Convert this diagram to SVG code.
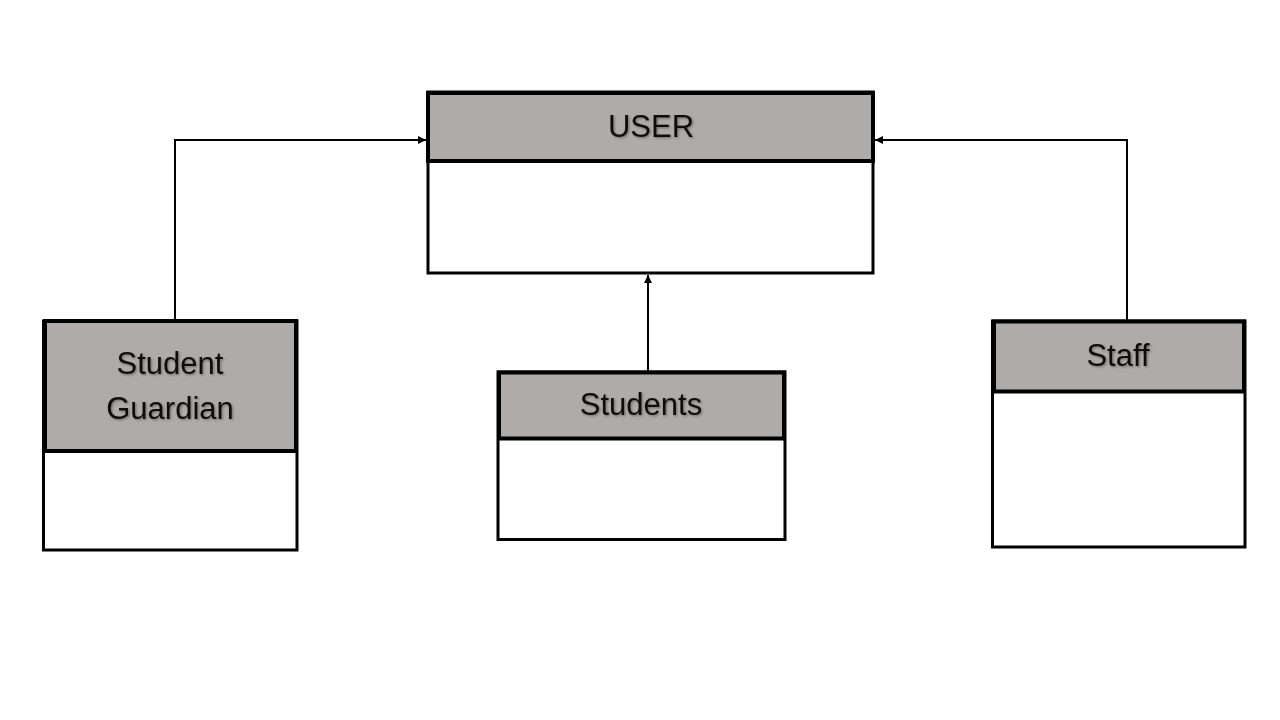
<svg xmlns="http://www.w3.org/2000/svg" width="1280" height="720" viewBox="0 0 1280 720">
  <defs>
    <marker id="arrow" viewBox="0 0 10 10" refX="10" refY="5" markerWidth="4" markerHeight="4" orient="auto" markerUnits="strokeWidth">
      <path d="M0,0 L10,5 L0,10 z" fill="#000"/>
    </marker>
    <filter id="shadow" x="-10%" y="-20%" width="130%" height="150%">
      <feDropShadow dx="1.2" dy="1.2" stdDeviation="0.8" flood-color="#000" flood-opacity="0.35"/>
    </filter>
  </defs>
  <style>
    .body { fill: #ffffff; stroke: #000; stroke-width: 3; }
    .head { fill: #AEABAA; stroke: #000; stroke-width: 4; }
    .label { font-family: "Liberation Sans", Arial, sans-serif; font-size: 31px; fill: #111; text-anchor: middle; filter: url(#shadow); }
    .conn { fill: none; stroke: #000; stroke-width: 2; }
  </style>
  <rect x="0" y="0" width="1280" height="720" fill="#ffffff"/>

  <g id="connectors">
    <path class="conn" d="M175,320 L175,140 L426,140" marker-end="url(#arrow)"/>
    <path class="conn" d="M1127,320 L1127,140 L875,140" marker-end="url(#arrow)"/>
    <path class="conn" d="M648,371 L648,275" marker-end="url(#arrow)"/>
  </g>

  <g id="user">
    <rect class="body" x="428" y="92" width="445" height="181"/>
    <rect class="head" x="428" y="93" width="445" height="68"/>
    <text class="label" x="651" y="137">USER</text>
  </g>

  <g id="student-guardian">
    <rect class="body" x="43.5" y="321" width="253.5" height="229"/>
    <rect class="head" x="45" y="321" width="251" height="130"/>
    <text class="label" x="170" y="374">Student</text>
    <text class="label" x="170" y="419">Guardian</text>
  </g>

  <g id="students">
    <rect class="body" x="498" y="372" width="287" height="167.5"/>
    <rect class="head" x="499" y="372.5" width="285" height="66"/>
    <text class="label" x="641" y="415">Students</text>
  </g>

  <g id="staff">
    <rect class="body" x="992.5" y="321" width="252.5" height="226"/>
    <rect class="head" x="994" y="321.5" width="250" height="70"/>
    <text class="label" x="1118" y="366">Staff</text>
  </g>
</svg>
